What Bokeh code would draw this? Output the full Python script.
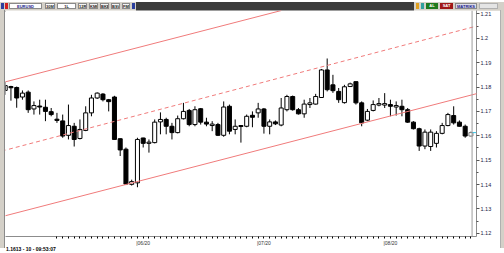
from bokeh.plotting import figure
from bokeh.models import (ColumnDataSource, FixedTicker, Range1d, Span, Div, Slope)
from bokeh.layouts import column, row
from bokeh.embed import file_html
from bokeh.resources import INLINE

# ---- data ----
opens = [1.1786, 1.1802, 1.1798, 1.1759, 1.1779, 1.1710, 1.1722, 1.1717, 1.1699, 1.1668,
         1.1661, 1.1602, 1.1639, 1.1589, 1.1622, 1.1694, 1.1755, 1.1771, 1.1748, 1.1759,
         1.1588, 1.1545, 1.1401, 1.1407, 1.1591, 1.1569, 1.1572, 1.1657, 1.1667, 1.1639,
         1.1613, 1.1670, 1.1704, 1.1646, 1.1711, 1.1656, 1.1642, 1.1646, 1.1602, 1.1721,
         1.1626, 1.1642, 1.1639, 1.1684, 1.1694, 1.1710, 1.1639, 1.1657, 1.1644, 1.1707,
         1.1761, 1.1707, 1.1690, 1.1728, 1.1730, 1.1757, 1.1870, 1.1809, 1.1782, 1.1736,
         1.1802, 1.1822, 1.1735, 1.1664, 1.1704, 1.1726, 1.1726, 1.1728, 1.1718, 1.1721,
         1.1707, 1.1656, 1.1629, 1.1558, 1.1556, 1.1569, 1.1610, 1.1642, 1.1683, 1.1656,
         1.1639, 1.1599]
highs = [1.1822, 1.1805, 1.1802, 1.1786, 1.1786, 1.1741, 1.1748, 1.1748, 1.1714, 1.1694,
         1.1687, 1.1728, 1.1653, 1.1667, 1.1721, 1.1768, 1.1778, 1.1775, 1.1751, 1.1764,
         1.1589, 1.1552, 1.1420, 1.1592, 1.1592, 1.1585, 1.1667, 1.1696, 1.1674, 1.1653,
         1.1683, 1.1735, 1.1710, 1.1721, 1.1714, 1.1674, 1.1660, 1.1653, 1.1741, 1.1728,
         1.1667, 1.1644, 1.1687, 1.1700, 1.1735, 1.1714, 1.1667, 1.1663, 1.1755, 1.1768,
         1.1765, 1.1714, 1.1748, 1.1755, 1.1772, 1.1874, 1.1917, 1.1850, 1.1796, 1.1809,
         1.1818, 1.1822, 1.1741, 1.1710, 1.1745, 1.1755, 1.1775, 1.1748, 1.1741, 1.1748,
         1.1714, 1.1660, 1.1633, 1.1626, 1.1626, 1.1619, 1.1653, 1.1694, 1.1721, 1.1663,
         1.1646, 1.1618]
lows = [1.1768, 1.1744, 1.1715, 1.1748, 1.1694, 1.1687, 1.1687, 1.1660, 1.1680, 1.1653,
        1.1592, 1.1585, 1.1556, 1.1585, 1.1619, 1.1680, 1.1751, 1.1741, 1.1700, 1.1585,
        1.1517, 1.1398, 1.1396, 1.1389, 1.1552, 1.1531, 1.1569, 1.1606, 1.1606, 1.1585,
        1.1610, 1.1667, 1.1639, 1.1639, 1.1646, 1.1639, 1.1619, 1.1599, 1.1596, 1.1606,
        1.1606, 1.1572, 1.1635, 1.1635, 1.1674, 1.1609, 1.1606, 1.1644, 1.1639, 1.1700,
        1.1703, 1.1687, 1.1674, 1.1714, 1.1728, 1.1755, 1.1782, 1.1776, 1.1735, 1.1732,
        1.1800, 1.1728, 1.1639, 1.1660, 1.1700, 1.1721, 1.1714, 1.1680, 1.1683, 1.1680,
        1.1653, 1.1626, 1.1538, 1.1545, 1.1538, 1.1552, 1.1606, 1.1639, 1.1646, 1.1638,
        1.1592, 1.1596]
closes = [1.1806, 1.1797, 1.1755, 1.1775, 1.1707, 1.1724, 1.1718, 1.1700, 1.1687, 1.1663,
          1.1599, 1.1642, 1.1585, 1.1626, 1.1694, 1.1755, 1.1775, 1.1748, 1.1740, 1.1585,
          1.1542, 1.1402, 1.1412, 1.1585, 1.1569, 1.1574, 1.1656, 1.1667, 1.1639, 1.1613,
          1.1670, 1.1700, 1.1646, 1.1707, 1.1656, 1.1648, 1.1648, 1.1602, 1.1718, 1.1619,
          1.1639, 1.1638, 1.1680, 1.1676, 1.1710, 1.1639, 1.1657, 1.1649, 1.1714, 1.1761,
          1.1707, 1.1690, 1.1730, 1.1735, 1.1761, 1.1870, 1.1789, 1.1785, 1.1748, 1.1801,
          1.1813, 1.1735, 1.1653, 1.1700, 1.1728, 1.1732, 1.1732, 1.1721, 1.1724, 1.1707,
          1.1656, 1.1629, 1.1558, 1.1615, 1.1615, 1.1610, 1.1642, 1.1687, 1.1653, 1.1639,
          1.1599, 1.1613]

time_labels = {24: "|06/20", 45: "|07/20", 67: "|08/20"}
price_ticks = [1.12, 1.13, 1.14, 1.15, 1.16, 1.17, 1.18, 1.19, 1.20, 1.21]
price_tick_labels = ["1.12", "1.13", "1.14", "1.15", "1.16", "1.17", "1.18", "1.19", "1.2", "1.21"]

# regression channel anchors (bar index, price)
channel_x = [0, 81.2]
channel_upper = [1.1821, 1.2316]
channel_mid = [1.1541, 1.2045]
channel_lower = [1.1272, 1.1768]

last_price = 1.1613
status_text = "1.1613 - 10 - 09:53:07"
chart_end_index = 81.2

# ---- figure ----
n = len(opens)
idx = list(range(n))
up = [c >= o for o, c in zip(opens, closes)]
src = ColumnDataSource(dict(
    x=idx, high=highs, low=lows,
    top=[max(o, c) for o, c in zip(opens, closes)],
    bottom=[min(o, c) for o, c in zip(opens, closes)],
    fill=["#ffffff" if u else "#000000" for u in up],
    line=["#000000"] * (n - 1) + ["#7a7a7a"],
))

p = figure(width=495, height=238, output_backend="svg", toolbar_location=None,
           x_range=Range1d(0.052, 81.97), y_range=Range1d(1.11870, 1.21138),
           y_axis_location="right", min_border_left=0, min_border_top=0,
           min_border_right=24, min_border_bottom=10, margin=0)
p.background_fill_color = "#ffffff"
p.border_fill_color = "#ffffff"
p.outline_line_color = None
p.grid.visible = False

for ys, dash in ((channel_upper, "solid"), (channel_mid, "4 3"), (channel_lower, "solid")):
    g = (ys[1] - ys[0]) / (channel_x[1] - channel_x[0])
    b = ys[0] - g * channel_x[0]
    p.add_layout(Slope(gradient=g, y_intercept=b, line_color="#f07b7b",
                       line_width=1, line_dash=dash))

p.add_layout(Span(location=chart_end_index, dimension="height",
                  line_color="#9c9c9c", line_width=1))

p.segment(x0="x", y0="low", x1="x", y1="high", source=src, line_color="line", line_width=1)
p.vbar(x="x", width=0.7, top="top", bottom="bottom", source=src,
       fill_color="fill", line_color="line", line_width=1)

p.segment(x0=[chart_end_index], y0=[last_price], x1=[82.2], y1=[last_price],
          line_color="#33c6e8", line_width=1)

# right price axis
ya = p.yaxis[0]
ya.ticker = FixedTicker(ticks=price_ticks,
                        minor_ticks=[round(t + 0.005, 3) for t in price_ticks[:-1]])
ya.major_label_overrides = {t: s for t, s in zip(price_ticks, price_tick_labels)}
ya.axis_line_color = "#8c8c8c"
ya.major_tick_line_color = "#555555"
ya.minor_tick_line_color = "#555555"
ya.major_tick_in = 0
ya.major_tick_out = 3
ya.minor_tick_in = 0
ya.minor_tick_out = 2
ya.major_label_standoff = 1
ya.major_label_text_font = "Liberation Sans"
ya.major_label_text_font_size = "5.5px"
ya.major_label_text_color = "#222244"

# bottom time axis (one dot per bar; the first bars sit under the status box)
xa = p.xaxis[0]
xa.ticker = FixedTicker(ticks=idx[9:])
xa.major_label_overrides = {i: time_labels.get(i, "") for i in idx}
xa.axis_line_color = "#8c8c8c"
xa.major_tick_line_color = "#000000"
xa.major_tick_in = 0
xa.major_tick_out = 2
xa.minor_tick_line_color = None
xa.major_label_standoff = 1
xa.major_label_text_font = "Liberation Sans"
xa.major_label_text_font_size = "5px"
xa.major_label_text_color = "#333333"

# ---- window chrome ----
def box(left, width, bg, txt="", color="#222", border="1px solid #8a8a8a"):
    return (f'<span style="position:absolute;left:{left}px;top:1px;width:{width}px;height:6px;'
            f'background:{bg};border:{border};color:{color};font:bold 4px Arial;line-height:6px;'
            f'text-align:center;overflow:hidden;white-space:nowrap">{txt}</span>')

def strip(width, bg, inner=""):
    return (f'<div style="position:relative;width:{width}px;height:10px;background:{bg};'
            f'border-bottom:1px solid #9a9a9a;box-sizing:border-box;overflow:hidden">{inner}</div>')

tb_left = Div(text=strip(136, "#d4d0c8",
                         box(1, 3, "#2b3f9e", "", border="none")
                         + box(5, 3, "#d02020", "", border="none")
                         + box(9, 33, "#ffffff", "EURUSD", "#1a1a8a")
                         + box(45, 10, "#ffffff", "30M")
                         + box(57, 19, "#ffffff", "1L")
                         + box(78, 9, "#f4f4f4", "12R")
                         + box(89, 9, "#f4f4f4", "KMK")
                         + box(100, 9, "#f4f4f4", "BKB")
                         + box(111, 9, "#f4f4f4", "BSV")
                         + box(122, 8, "#f4f4f4", "FMF")
                         + box(132, 3, "#2b3f9e", "", border="none")),
              width=136, height=10, margin=0)
tb_mid = Div(text=strip(278, "#3c3c3c"), width=278, height=10, margin=0)
tb_right = Div(text=strip(90, "#d4d0c8",
                          box(2, 3, "#e0a020", "", border="none")
                          + box(7, 3, "#30a0a0", "", border="none")
                          + box(12, 12, "#1f7a1f", "AL", "#ffffff", border="none")
                          + box(26, 13, "#a01818", "SAT", "#ffffff", border="none")
                          + box(41, 22, "#dcdce8", "MATRIKS", "#1a1a8a")
                          + box(65, 19, "#e4e4e4", "", border="1px solid #b0b0b0")),
               width=90, height=10, margin=0)
toolbar = row(tb_left, tb_mid, tb_right, spacing=0, margin=0)

left = Div(text='<div style="width:5px;height:238px;background:#d4d0c8;'
                'border-right:1px solid #8a8a8a;box-sizing:border-box"></div>',
           width=5, height=238, margin=0)
right = Div(text='<div style="width:4px;height:238px;background:#d4d0c8;'
                 'border-left:1px solid #b0b0b0;box-sizing:border-box"></div>',
            width=4, height=238, margin=0)
bottom = Div(text='<div style="position:relative;width:504px;height:5px;background:#d4d0c8;'
                  'border-top:1px solid #b0b0b0;box-sizing:border-box;overflow:visible">'
                  '<span style="position:absolute;left:5px;top:-10px;height:7px;padding:0 1px;'
                  'background:#ffffff;color:#000;font:bold 5px \'Liberation Sans\';line-height:7px;'
                  f'white-space:nowrap">{status_text}</span>'
                  '<span style="position:absolute;left:486px;top:0;width:5px;height:4px;background:#3a6ad0"></span>'
                  '<span style="position:absolute;left:493px;top:0;width:7px;height:4px;background:#2a3a9a"></span>'
                  '</div>', width=504, height=5, margin=0)

layout = column(toolbar, row(left, p, right, spacing=0, margin=0), bottom, spacing=0, margin=0)

open("out.html", "w").write(file_html(layout, INLINE))
